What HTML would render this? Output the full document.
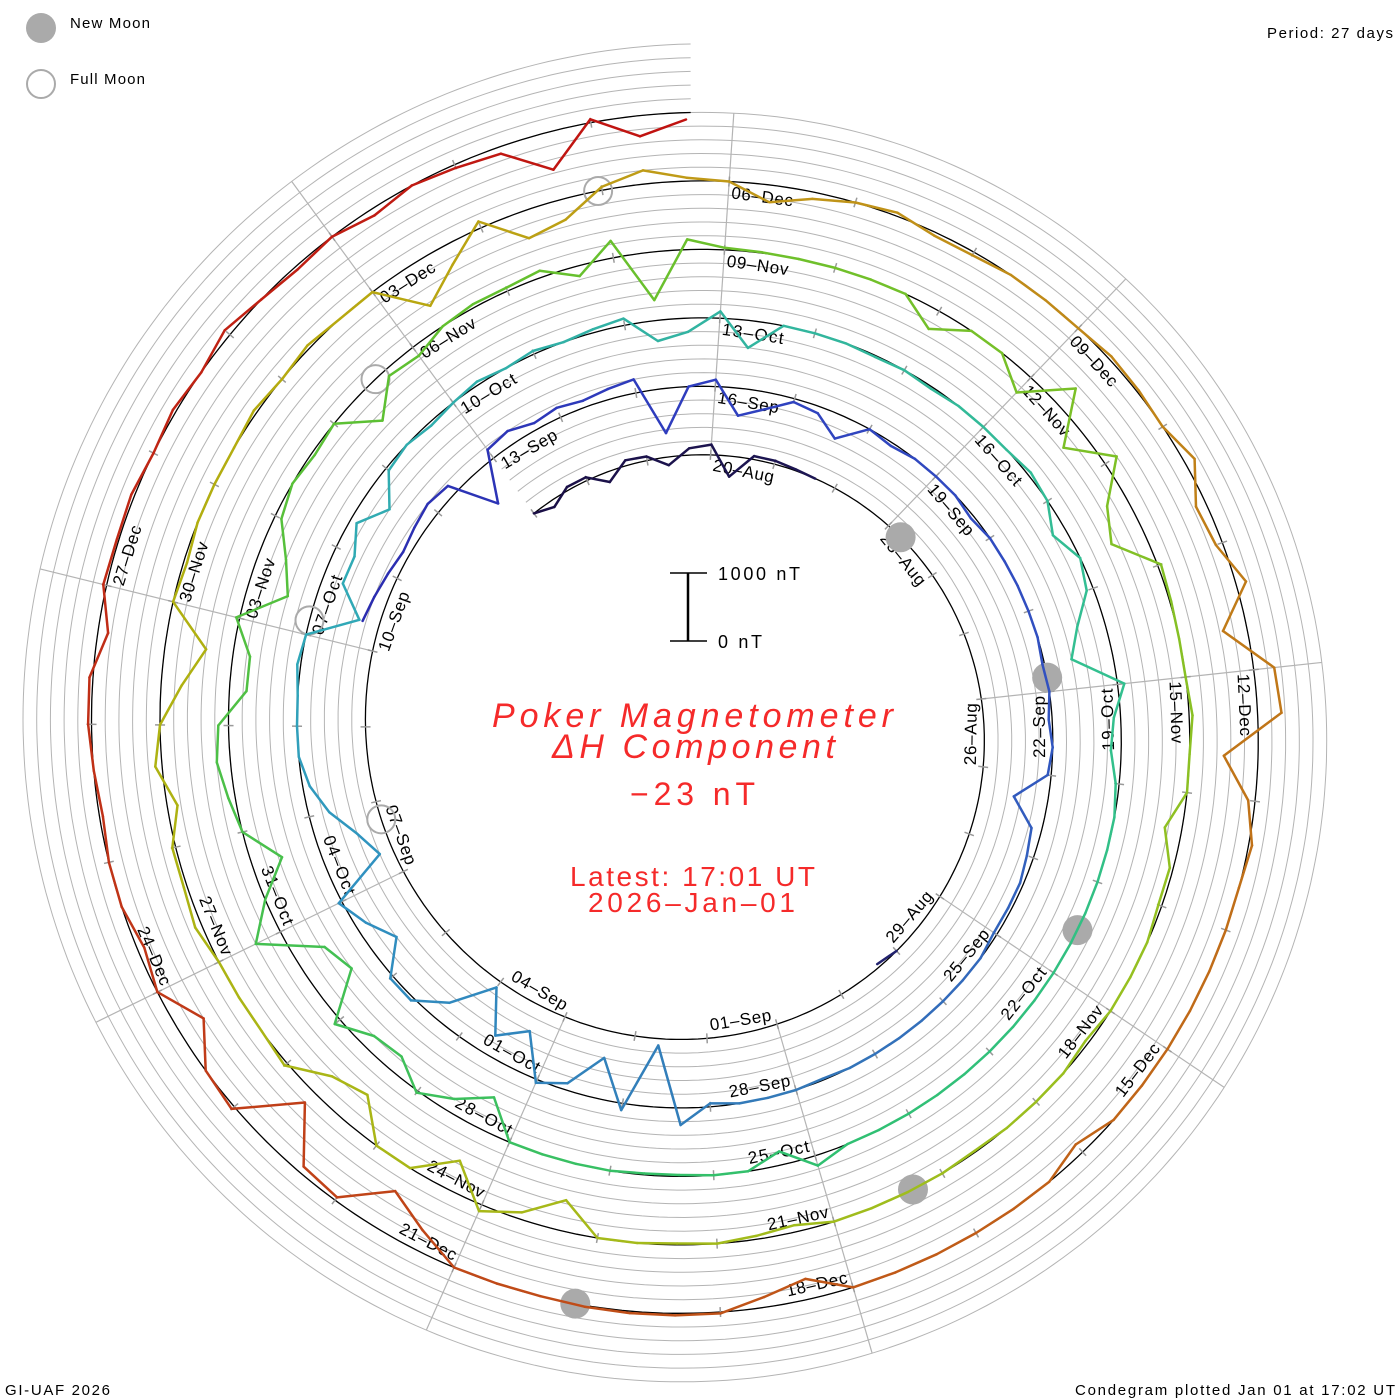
<!DOCTYPE html>
<html><head><meta charset="utf-8"><title>Poker Magnetometer Condegram</title>
<style>
html,body{margin:0;padding:0;background:#fff;}
svg{display:block;}
text{font-family:"Liberation Sans",sans-serif;}
</style></head>
<body>
<svg id="chart" width="1400" height="1400" viewBox="0 0 1400 1400" xmlns="http://www.w3.org/2000/svg">
  <rect width="1400" height="1400" fill="#fff"/>
  <g id="grid"></g>
  <g id="spokes"></g>
  <g id="base"></g>
  <g id="ticks"></g>
  <g id="labels"></g>
  <g id="moons"></g>
  <g id="trace"></g>

  <g>
    <circle cx="41" cy="28" r="15" fill="#aaaaaa"/>
    <text x="70" y="28" font-size="15" textLength="80" lengthAdjust="spacing">New Moon</text>
    <circle cx="41" cy="84" r="14" fill="none" stroke="#aaaaaa" stroke-width="2"/>
    <text x="70" y="84" font-size="15" textLength="75" lengthAdjust="spacing">Full Moon</text>
  </g>
  <text x="1267" y="38" font-size="15" textLength="126" lengthAdjust="spacing">Period: 27 days</text>

  <g>
    <line x1="688" y1="573" x2="688" y2="641" stroke="#000" stroke-width="2.5"/>
    <line x1="670" y1="573" x2="707" y2="573" stroke="#000" stroke-width="1.5"/>
    <line x1="670" y1="641" x2="707" y2="641" stroke="#000" stroke-width="1.5"/>
    <text x="718" y="580" font-size="18" textLength="82" lengthAdjust="spacing">1000 nT</text>
    <text x="718" y="648" font-size="18" textLength="44" lengthAdjust="spacing">0 nT</text>
  </g>

  <g fill="#f52a2a">
    <text x="492" y="727" font-family="Liberation Serif, serif" font-style="italic" font-size="34" textLength="401" lengthAdjust="spacing">Poker Magnetometer</text>
    <text x="552" y="758" font-family="Liberation Serif, serif" font-style="italic" font-size="34" textLength="283" lengthAdjust="spacing">ΔH Component</text>
    <text x="630" y="805" font-size="32" textLength="125" lengthAdjust="spacing">−23 nT</text>
    <text x="570" y="886" font-size="28" textLength="245" lengthAdjust="spacing">Latest: 17:01 UT</text>
    <text x="588" y="912" font-size="28" textLength="207" lengthAdjust="spacing">2026–Jan–01</text>
  </g>

  <text x="5" y="1395" font-size="15" textLength="105" lengthAdjust="spacing">GI-UAF 2026</text>
  <text x="1075" y="1395" font-size="15" textLength="320" lengthAdjust="spacing">Condegram plotted Jan 01 at 17:02 UT</text>
</svg>
<script>
// ---- data: ΔH deviation (nT), 3 samples per day (00,08,16 UT), starting 2025-08-17 ----
const devAug = [
 0,-100,50, 50,-150,80, 60,-120,100, 150,-300,50, 50,20,0,
 null,null,null, null,null,null, null,null,null, null,null,null, null,null,null,
 null,null,null, null,null,null, null,null,null, 0,-50,null, null,null,null
];
const devSep = [
 null,null,null, null,null,null, null,null,null, null,null,null, null,null,null,
 null,null,null, null,null,null, null,null,null, null,null,null, null,250,200,
 150,100,150, 200,150,-550, 150,200,100, 150,100,150, 200,-650,0,
 100,-400,-250, -50,-100,-350, 0,-50,0, 0,0,-50, 0,0,0,
 0,0,-30, 0,-50,0, -50,-500,-150, -100,-50,-50, -50,0,0,
 0,0,0, 0,0,-20, 0,0,0, -50,250,-900, 100,-600,-100
];
const devOct = [
 50,-600,-300, -900,-300,50, 50,-400,-150, 50,-800,-600, -300,-100,0,
 0,0,50, 0,-700,-300, -300,-100,-400, -50,0,-50, 0,50,0,
 50,0,50, 100,-300,-200, 100,-400,0, 0,0,-20, 0,-30,0,
 0,0,50, 0,-200,0, -100,-400,-600, 100,-100,-150, -50,0,0,
 0,0,0, 0,0,0, 0,0,0, 0,0,0, 150,-200,0,
 0,-20,-20, 0,0,0, 0,-500,-200, 30,-250,-200, 100,-600,-450,
 400,0,-450
];
const devNov = [
 0,100,200, 150,-250,-250, 50,-600,-400, -100,0,-50, 0,-500,-100,
 -150,0,50, 50,100,-150, 250,-700,150, 30,10,0, 0,0,0,
 -300,0,0, -300,350,-350, 200,-300,-500, 50,20,0, 0,50,0,
 0,-250,-50, -50,0,0, 0,-50,0, 0,0,-20, 0,0,0,
 0,-100,-50, 0,-20,0, 0,-450,-100, 100,-450,0, 0,-500,-350,
 50,0,0, 0,100,50, 50,-150,100, 0,-300,-600, 0,-50,0
];
const devDec = [
 0,0,50, 0,50,0, 0,-650,-300, 100,-400,-300, 50,200,50,
 0,-250,-100, 0,50,-50, -50,0,0, 0,50,30, 0,150,-150,
 -100,150,-350, 300,350,-500, -100,50,0, 0,0,0, 0,0,0,
 -150,0,0, 0,0,0, 0,-300,-150, 20,30,30, 20,0,0,
 0,-300,-600, -50,-100,-800, 50,0,-400, 0,-100,0, 0,-50,0,
 50,50,-150, 50,30,50, 0,50,0, 100,0,-50, 0,-100,0,
 -50,-100,-550
];
const devJan = [50,-300,-100];

const labelMonths = ["Jan","Feb","Mar","Apr","May","Jun","Jul","Aug","Sep","Oct","Nov","Dec"];
const newMoons = ["2025-08-23T06:06Z","2025-09-21T19:54Z","2025-10-21T12:25Z","2025-11-20T06:47Z","2025-12-20T01:43Z"];
const fullMoons = ["2025-09-07T18:09Z","2025-10-07T03:48Z","2025-11-05T13:19Z","2025-12-04T23:14Z"];

// ---- geometry / scales ----
const NS = "http://www.w3.org/2000/svg";
const CX = 692, CY = 730, R0 = 275, PITCH = 68.5, PX_PER_NT = 0.0685;
const DAY = 86400000, PERIOD = 27;
const T0 = Date.UTC(2025,7,19,17,1);
const DATA_START = Date.UTC(2025,7,17,0,0);
const SAMPLE_MS = 8*3600000;
const TH_START = thetaOf(DATA_START), TH_END = 1800;
const colorStops = [
 [0,"#1a0f45"],[13,"#22226e"],[24,"#2a2aae"],[30,"#2f3fbf"],[36,"#3152c0"],[42,"#3378b8"],
 [48,"#3090c0"],[51,"#30a8b8"],[57,"#32b4a0"],[63,"#33c090"],[69,"#30c070"],[75,"#45c050"],
 [81,"#60c030"],[87,"#78c028"],[93,"#98c020"],[99,"#a8b818"],[105,"#b0b010"],[108,"#b8a810"],
 [111,"#c09818"],[117,"#c07818"],[123,"#c05818"],[129,"#c03818"],[138,"#c01010"]
];

function thetaOf(ms){ return (ms - T0)/DAY/PERIOD*360; }
function baseR(th){ return R0 + PITCH*th/360; }
function pos(th, r){ const a = th*Math.PI/180; return [CX + r*Math.sin(a), CY - r*Math.cos(a)]; }
function hex2rgb(h){ return [parseInt(h.substr(1,2),16),parseInt(h.substr(3,2),16),parseInt(h.substr(5,2),16)]; }
function colorAt(day){
  if (day <= colorStops[0][0]) return colorStops[0][1];
  for (let i=1;i<colorStops.length;i++){
    if (day <= colorStops[i][0]){
      const [d0,c0]=colorStops[i-1],[d1,c1]=colorStops[i];
      const f=(day-d0)/(d1-d0), a=hex2rgb(c0), b=hex2rgb(c1);
      return "rgb("+a.map((v,k)=>Math.round(v+(b[k]-v)*f)).join(",")+")";
    }
  }
  return colorStops[colorStops.length-1][1];
}
function spiralPath(offset){
  let d = "";
  for (let th = TH_START; th <= TH_END + 0.001; th += 1){
    const t = Math.min(th, TH_END);
    const p = pos(t, baseR(t) + offset);
    d += (d ? "L" : "M") + p[0].toFixed(1) + "," + p[1].toFixed(1);
  }
  return d;
}

// grid spirals (every 200 nT)
const gGrid = document.getElementById("grid");
for (let k = 2; k <= 10; k += 2){
  const p = document.createElementNS(NS,"path");
  p.setAttribute("d", spiralPath(k*100*PX_PER_NT));
  p.setAttribute("fill","none"); p.setAttribute("stroke","#b4b4b4"); p.setAttribute("stroke-width","1");
  
  
  gGrid.appendChild(p);
}

// spokes
const gSp = document.getElementById("spokes");
const firstLabel = Date.UTC(2025,7,20,0,0);
for (let j = 0; j < 9; j++){
  const phi = thetaOf(firstLabel + j*3*DAY);
  const a = pos(phi, baseR(phi));
  const b = pos(phi, baseR(phi + 1440) + PITCH);
  const l = document.createElementNS(NS,"line");
  l.setAttribute("x1",a[0]); l.setAttribute("y1",a[1]); l.setAttribute("x2",b[0]); l.setAttribute("y2",b[1]);
  l.setAttribute("stroke","#b4b4b4"); l.setAttribute("stroke-width","1.2");
  
  
  gSp.appendChild(l);
}

// baseline
const gBase = document.getElementById("base");
const bp = document.createElementNS(NS,"path");
bp.setAttribute("d", spiralPath(0));
bp.setAttribute("fill","none"); bp.setAttribute("stroke","#000"); bp.setAttribute("stroke-width","1.3");


gBase.appendChild(bp);

// daily ticks
const gT = document.getElementById("ticks");
for (let ms = DATA_START; thetaOf(ms) <= TH_END; ms += DAY){
  const th = thetaOf(ms), r = baseR(th);
  const a = pos(th, r-5), b = pos(th, r+5);
  const l = document.createElementNS(NS,"line");
  l.setAttribute("x1",a[0]); l.setAttribute("y1",a[1]); l.setAttribute("x2",b[0]); l.setAttribute("y2",b[1]);
  l.setAttribute("stroke","#9a9a9a"); l.setAttribute("stroke-width","1.5");
  
  
  gT.appendChild(l);
}

// date labels
const gL = document.getElementById("labels");
for (let n = 0; n <= 43; n++){
  const ms = firstLabel + n*3*DAY;
  const dt = new Date(ms);
  const txt = String(dt.getUTCDate()).padStart(2,"0") + "–" + labelMonths[dt.getUTCMonth()];
  const th = thetaOf(ms), rc = baseR(th) - 12, L = 62;
  const thc = th + (3 + L/2)/rc*180/Math.PI;
  const p = pos(thc, rc);
  const m = ((thc % 360) + 360) % 360;
  const rot = (m > 88.3 && m < 270) ? m - 180 : m;
  const t = document.createElementNS(NS,"text");
  t.setAttribute("x", p[0].toFixed(1)); t.setAttribute("y", p[1].toFixed(1));
  t.setAttribute("text-anchor","middle"); t.setAttribute("dominant-baseline","central");
  t.setAttribute("font-size","17"); t.setAttribute("textLength", L); t.setAttribute("lengthAdjust","spacing");
  t.setAttribute("transform","rotate("+rot.toFixed(2)+" "+p[0].toFixed(1)+" "+p[1].toFixed(1)+")");
  t.textContent = txt;
  
  
  gL.appendChild(t);
}

// moons
const gM = document.getElementById("moons");
newMoons.forEach(s => {
  const th = thetaOf(Date.parse(s)); const p = pos(th, baseR(th));
  const c = document.createElementNS(NS,"circle");
  c.setAttribute("cx",p[0]); c.setAttribute("cy",p[1]); c.setAttribute("r","15"); c.setAttribute("fill","#aaaaaa");
  
  
  gM.appendChild(c);
});
fullMoons.forEach(s => {
  const th = thetaOf(Date.parse(s)); const p = pos(th, baseR(th));
  const c = document.createElementNS(NS,"circle");
  c.setAttribute("cx",p[0]); c.setAttribute("cy",p[1]); c.setAttribute("r","14");
  c.setAttribute("fill","none"); c.setAttribute("stroke","#aaaaaa"); c.setAttribute("stroke-width","2");
  
  
  gM.appendChild(c);
});

// trace
const series = [].concat(devAug, devSep, devOct, devNov, devDec, devJan);
const gTr = document.getElementById("trace");
for (let i = 0; i < series.length - 1; i++){
  const v0 = series[i], v1 = series[i+1];
  if (v0 === null || v1 === null) continue;
  const ms0 = DATA_START + i*SAMPLE_MS, ms1 = ms0 + SAMPLE_MS;
  const th0 = thetaOf(ms0), th1 = Math.min(thetaOf(ms1), TH_END);
  const a = pos(th0, baseR(th0) + v0*PX_PER_NT);
  const b = pos(th1, baseR(th1) + v1*PX_PER_NT);
  const l = document.createElementNS(NS,"line");
  l.setAttribute("x1",a[0].toFixed(1)); l.setAttribute("y1",a[1].toFixed(1));
  l.setAttribute("x2",b[0].toFixed(1)); l.setAttribute("y2",b[1].toFixed(1));
  l.setAttribute("stroke", colorAt((ms0 + SAMPLE_MS/2 - DATA_START)/DAY));
  l.setAttribute("stroke-width","2.5"); l.setAttribute("stroke-linecap","round");
  
  
  gTr.appendChild(l);
}
</script>
</body></html>
